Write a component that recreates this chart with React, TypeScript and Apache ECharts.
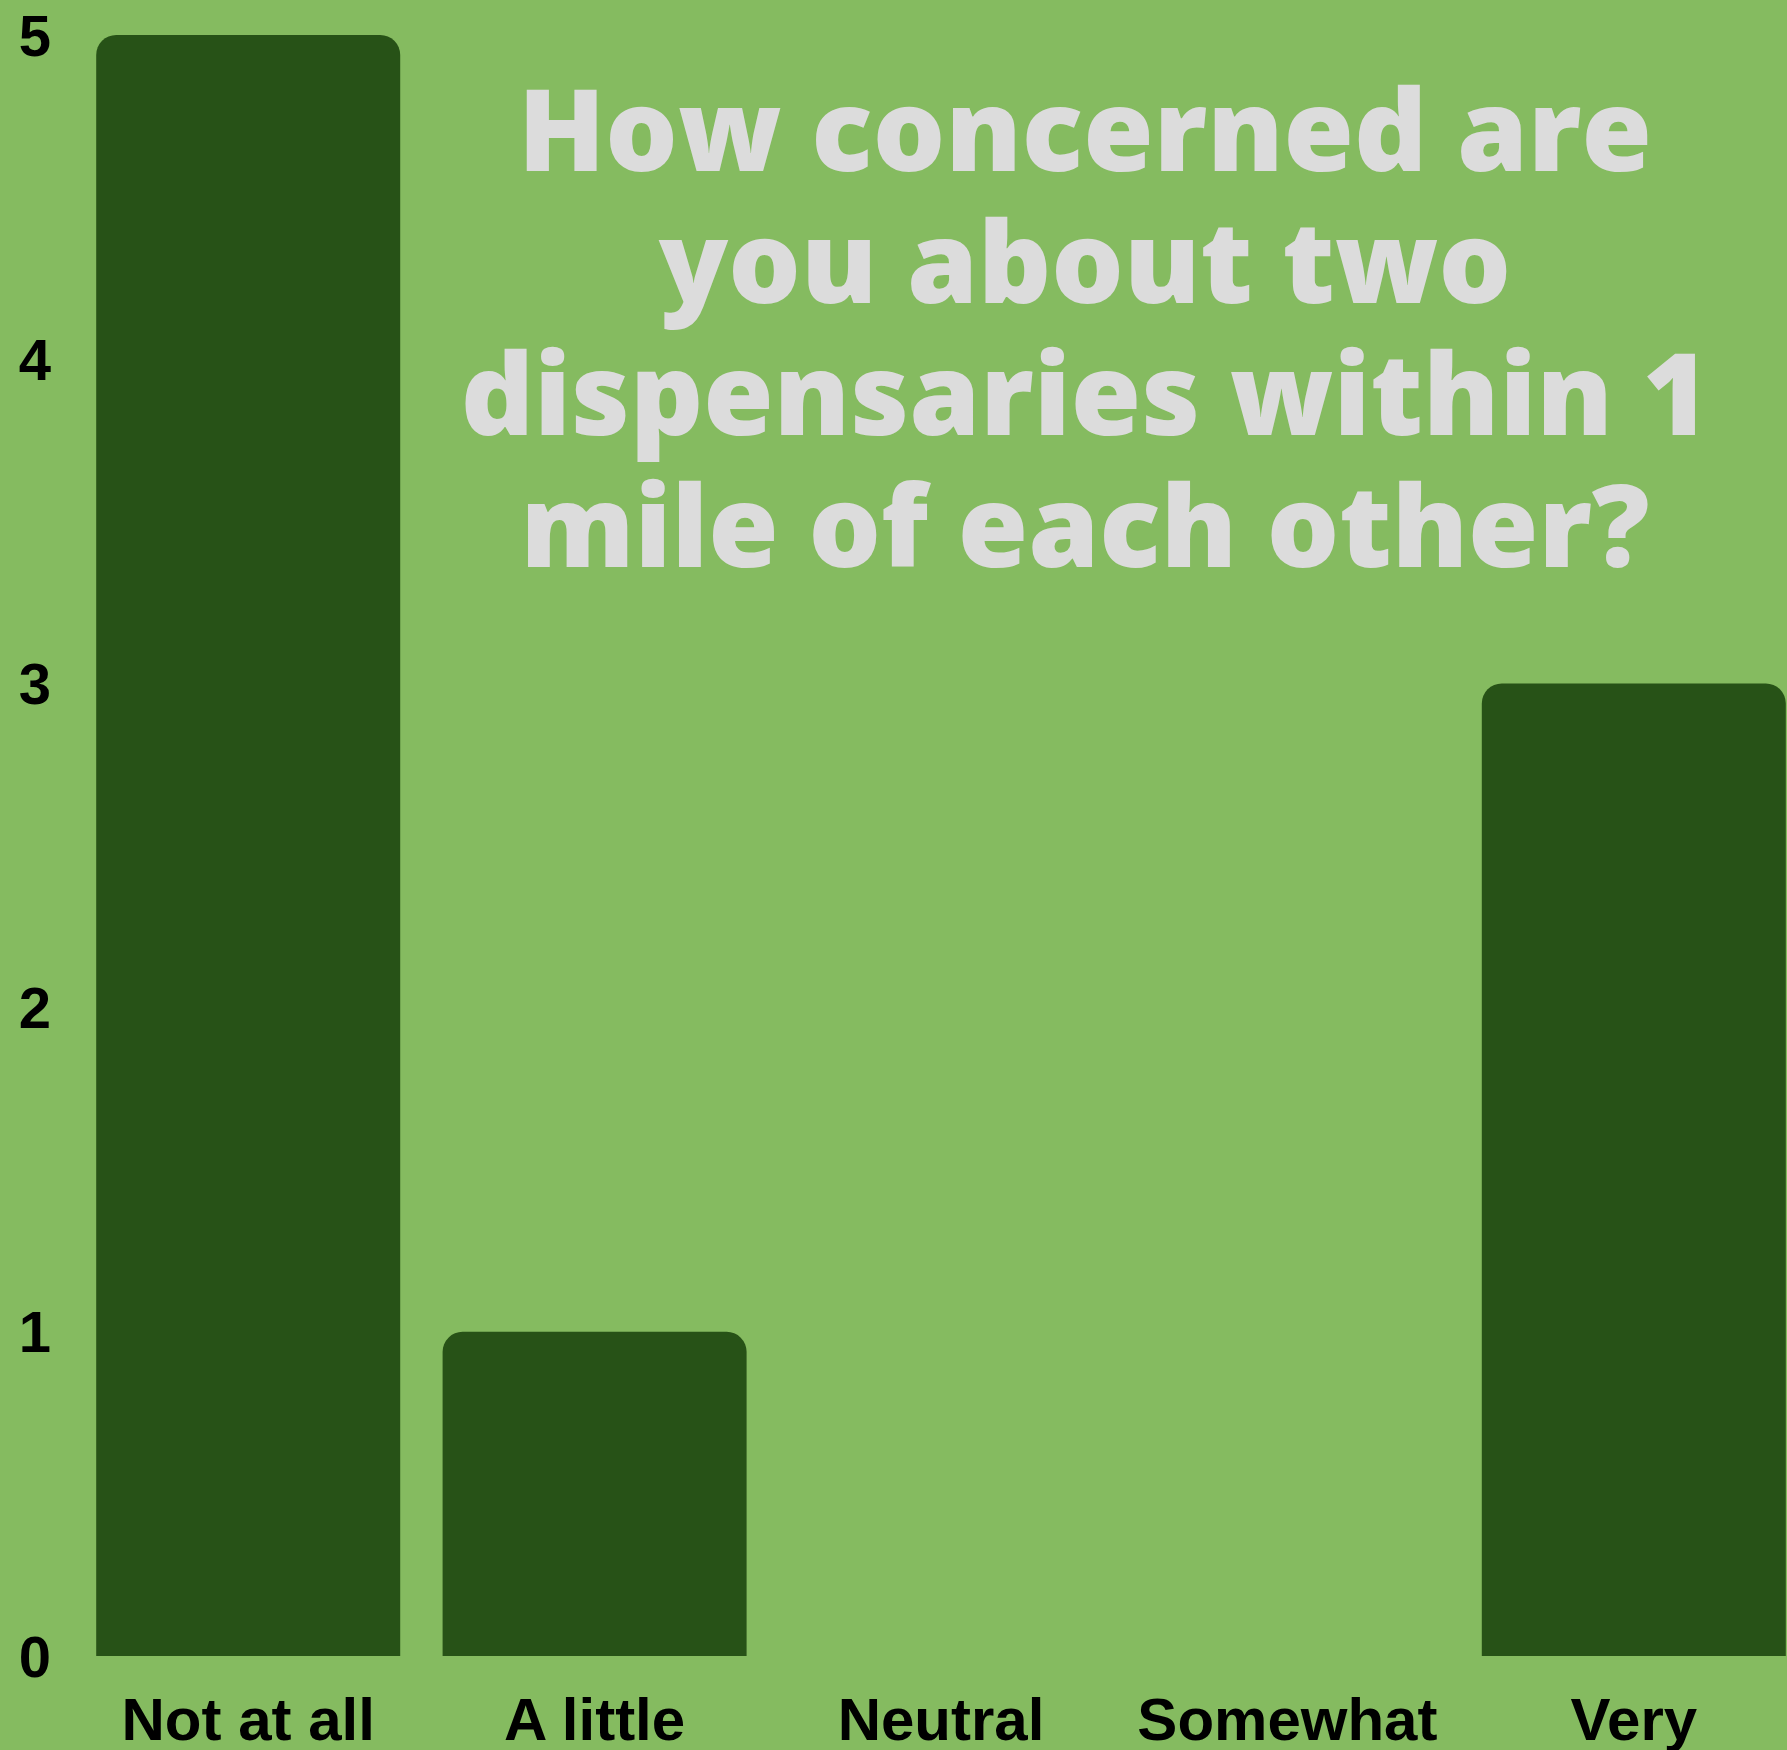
import React, { useEffect, useRef } from "react";
import * as echarts from "echarts";

const categories = ["Not at all", "A little", "Neutral", "Somewhat", "Very"];
const counts = [5, 1, 0, 0, 3];
const yTicks = [0, 1, 2, 3, 4, 5];
const titleText = "How concerned are\nyou about two\ndispensaries within 1\nmile of each other?";

export default function App() {
  const ref = useRef<HTMLDivElement>(null);
  useEffect(() => {
    const chart = echarts.init(ref.current!, null, { renderer: "svg" });
    chart.setOption({
      animation: false,
      backgroundColor: "#85bb60",
      title: {
        text: titleText,
        left: 1080,
        top: 55,
        textAlign: "center",
        textStyle: {
          fontFamily: "Open Sans",
          fontWeight: 800,
          fontSize: 114,
          lineHeight: 132,
          color: "#dcdcdc",
        },
      },
      grid: { left: 75, right: 0, top: 35, bottom: 94, containLabel: false },
      xAxis: {
        type: "category",
        data: categories,
        axisLine: { show: false },
        axisTick: { show: false },
        axisLabel: {
          interval: 0,
          hideOverlap: false,
          margin: 36,
          fontFamily: "Liberation Sans",
          fontWeight: "bold",
          fontSize: 60,
          lineHeight: 54,
          color: "#000000",
        },
      },
      yAxis: {
        type: "value",
        min: 0,
        max: 5,
        interval: 1,
        splitLine: { show: false },
        axisLine: { show: false },
        axisTick: { show: false },
        axisLabel: {
          margin: 24,
          fontFamily: "Liberation Sans",
          fontWeight: "bold",
          fontSize: 58,
          color: "#000000",
          formatter: (v: number) => (yTicks.includes(v) ? String(v) : ""),
        },
      },
      series: [
        {
          type: "bar",
          data: counts,
          barWidth: 304,
          itemStyle: { color: "#275217", borderRadius: [20, 20, 0, 0] },
        },
      ],
    });
    return () => chart.dispose();
  }, []);
  return (
    <div style={{ position: "fixed", left: 0, top: 0, width: 1787, height: 1750, overflow: "hidden" }}>
      <div ref={ref} style={{ width: 1807, height: 1750 }} />
    </div>
  );
}
